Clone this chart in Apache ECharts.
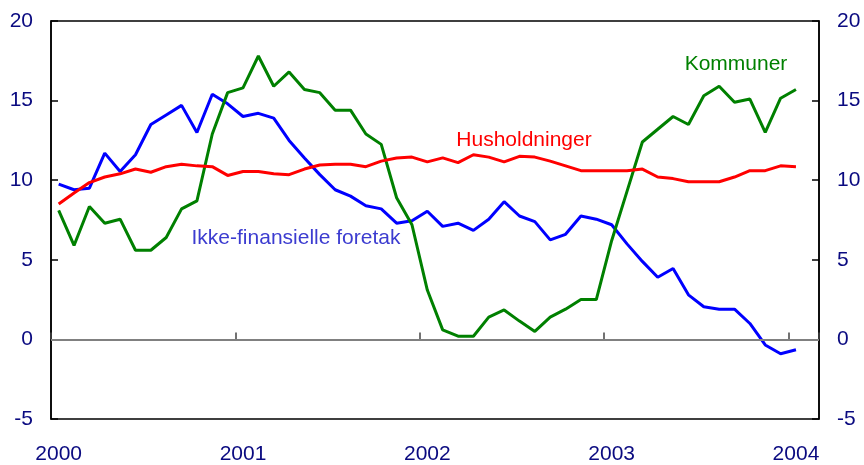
<!DOCTYPE html>
<html>
<head>
<meta charset="utf-8">
<script src="https://cdn.jsdelivr.net/npm/echarts@6/dist/echarts.min.js"></script>
<style>
html,body{margin:0;padding:0;background:#fff;}
#c{width:864px;height:465px;}
</style>
</head>
<body>
<div id="c"></div>
<script>
// Monthly categories Jan 2000 .. Feb 2004 (axis spans 50 months)
const years = ['2000','2001','2002','2003','2004'];
const categories = [];
for (let k = 0; k < 50; k++) {
  categories.push(years[Math.floor(k / 12)] + '-' + String(k % 12 + 1).padStart(2, '0'));
}
const yTicks = [-5, 0, 5, 10, 15, 20];

const ikkeFinansielle = [9.75, 9.4, 9.5, 11.7, 10.55, 11.6, 13.5, 14.1, 14.7, 13.0, 15.4, 14.8,
  14.0, 14.2, 13.9, 12.5, 11.4, 10.35, 9.4, 9.0, 8.4, 8.2, 7.3, 7.45,
  8.05, 7.1, 7.3, 6.85, 7.55, 8.65, 7.75, 7.4, 6.25, 6.6, 7.75, 7.55,
  7.2, 6.0, 4.9, 3.9, 4.45, 2.8, 2.05, 1.9, 1.9, 1.0, -0.35, -0.9,
  -0.65];
const husholdninger = [8.5, 9.2, 9.85, 10.2, 10.4, 10.7, 10.5, 10.85, 11.0, 10.9, 10.85, 10.3,
  10.55, 10.55, 10.4, 10.35, 10.7, 10.95, 11.0, 11.0, 10.85, 11.2, 11.4, 11.45,
  11.15, 11.4, 11.1, 11.6, 11.45, 11.15, 11.5, 11.45, 11.2, 10.9, 10.6, 10.6,
  10.6, 10.6, 10.7, 10.2, 10.1, 9.9, 9.9, 9.9, 10.2, 10.6, 10.6, 10.9,
  10.85];
const kommuner = [8.1, 5.9, 8.35, 7.3, 7.55, 5.6, 5.6, 6.4, 8.2, 8.7, 12.9, 15.5,
  15.8, 17.8, 15.9, 16.8, 15.7, 15.5, 14.4, 14.4, 12.9, 12.25, 8.9, 7.2,
  3.1, 0.6, 0.2, 0.2, 1.4, 1.85, 1.15, 0.5, 1.4, 1.9, 2.5, 2.5,
  6.2, 9.3, 12.4, 13.2, 14.0, 13.5, 15.3, 15.9, 14.9, 15.1, 13.0, 15.15,
  15.7];

const FONT = "'Liberation Sans', Arial, sans-serif";
const chart = echarts.init(document.getElementById('c'), null, {renderer: 'canvas'});

const yAxisCommon = {
  type: 'value', min: yTicks[0], max: yTicks[yTicks.length - 1], interval: 5,
  axisLine: {show: true, lineStyle: {color: '#000', width: 1.5}},
  axisTick: {show: true, inside: true, length: 7, lineStyle: {color: '#000', width: 1.5}},
  splitLine: {show: false},
  axisLabel: {color: '#0a0a80', fontSize: 21, fontFamily: FONT, margin: 18}
};

chart.setOption({
  animation: false,
  backgroundColor: '#fff',
  grid: {left: 51, right: 45, top: 21, bottom: 45, show: true, borderColor: '#000', borderWidth: 1.5, containLabel: false},
  xAxis: {
    type: 'category', data: categories, boundaryGap: true,
    axisLine: {show: true, lineStyle: {color: '#000', width: 1.5}},
    axisTick: {show: true, inside: true, length: 7, alignWithLabel: false,
      interval: function (i) { return i % 12 === 0; },
      lineStyle: {color: '#444', width: 1.5}},
    axisLabel: {color: '#0a0a80', fontSize: 21, fontFamily: FONT, margin: 25,
      interval: function (i) { return i % 12 === 0; },
      formatter: function (v) { return v.slice(0, 4); }},
    splitLine: {show: false}
  },
  yAxis: [
    Object.assign({position: 'left'}, yAxisCommon),
    Object.assign({position: 'right'}, yAxisCommon)
  ],
  series: [
    {type: 'line', data: [], z: 1, silent: true,
      markLine: {silent: true, symbol: 'none', label: {show: false},
        lineStyle: {color: '#808080', width: 2, type: 'solid'},
        data: [{yAxis: 0}]}},
    {name: 'Ikke-finansielle foretak', type: 'line', data: ikkeFinansielle, showSymbol: false, symbol: 'none',
      lineStyle: {color: '#0000ff', width: 3}, z: 3},
    {name: 'Kommuner', type: 'line', data: kommuner, showSymbol: false, symbol: 'none',
      lineStyle: {color: '#008000', width: 3}, z: 4},
    {name: 'Husholdninger', type: 'line', data: husholdninger, showSymbol: false, symbol: 'none',
      lineStyle: {color: '#ff0000', width: 3}, z: 5}
  ],
  graphic: [
    {type: 'text', x: 736, y: 64, style: {text: 'Kommuner', fill: '#008000', font: '21px ' + FONT, align: 'center', verticalAlign: 'middle'}},
    {type: 'text', x: 524, y: 140, style: {text: 'Husholdninger', fill: '#ff0000', font: '21px ' + FONT, align: 'center', verticalAlign: 'middle'}},
    {type: 'text', x: 296, y: 238, style: {text: 'Ikke-finansielle foretak', fill: '#3c3cd0', font: '21px ' + FONT, align: 'center', verticalAlign: 'middle'}}
  ]
});
</script>
</body>
</html>
